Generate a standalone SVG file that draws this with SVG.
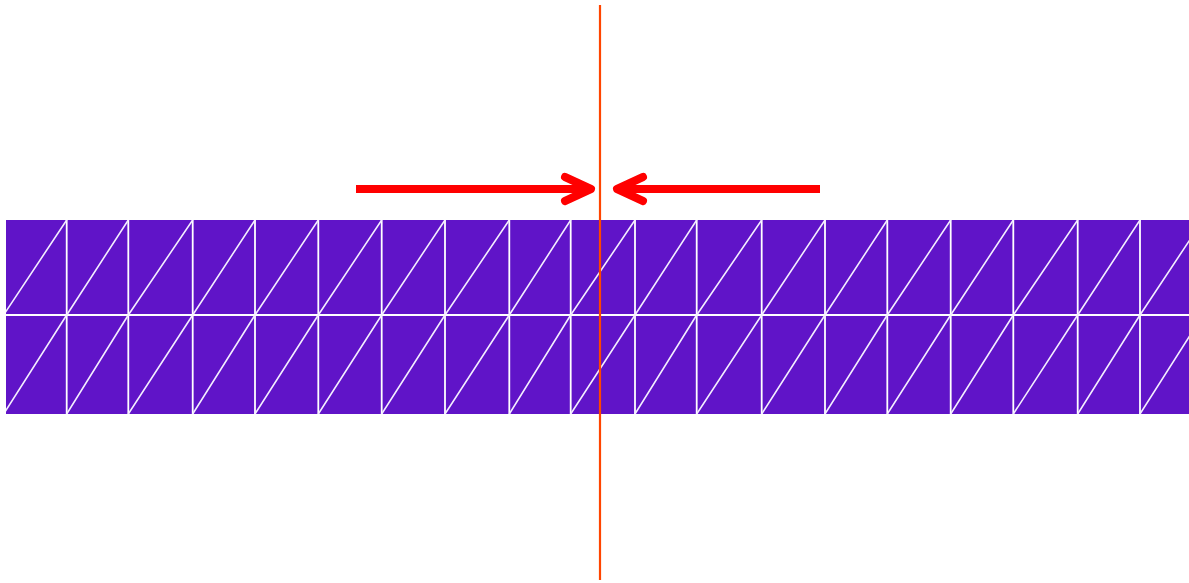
<svg xmlns="http://www.w3.org/2000/svg" width="1189" height="583" viewBox="0 0 1189 583">
<defs>
<style>
.bg{fill:#ffffff}
.band{fill:#6014c8}
.mesh{stroke:#ffffff;stroke-width:1.8;fill:none}
.diag{stroke:#f4eeff;stroke-width:1.6;fill:none}
.axis{stroke:#ff4500;stroke-width:2.2;fill:none}
.arrow{stroke:#ff0000;stroke-width:8;fill:none;stroke-linecap:round;stroke-linejoin:round}
.shaft{stroke:#ff0000;stroke-width:8;fill:none;stroke-linecap:butt}
</style>
<clipPath id="bandClip"><rect x="6" y="220" width="1183" height="194"/></clipPath>
</defs>
<rect class="bg" x="0" y="0" width="1189" height="583"/>
<g id="mesh">
<rect class="band" x="6" y="220" width="1183" height="194"/>
<g clip-path="url(#bandClip)">
<line class="mesh" x1="0" y1="315" x2="1189" y2="315"/>
<g id="verticals">
<line class="mesh" x1="66.7" y1="220" x2="66.7" y2="414"/>
<line class="mesh" x1="128.3" y1="220" x2="128.3" y2="414"/>
<line class="mesh" x1="192.7" y1="220" x2="192.7" y2="414"/>
<line class="mesh" x1="255" y1="220" x2="255" y2="414"/>
<line class="mesh" x1="318.3" y1="220" x2="318.3" y2="414"/>
<line class="mesh" x1="381.7" y1="220" x2="381.7" y2="414"/>
<line class="mesh" x1="445" y1="220" x2="445" y2="414"/>
<line class="mesh" x1="509.3" y1="220" x2="509.3" y2="414"/>
<line class="mesh" x1="570.7" y1="220" x2="570.7" y2="414"/>
<line class="mesh" x1="635" y1="220" x2="635" y2="414"/>
<line class="mesh" x1="696.7" y1="220" x2="696.7" y2="414"/>
<line class="mesh" x1="761.7" y1="220" x2="761.7" y2="414"/>
<line class="mesh" x1="825" y1="220" x2="825" y2="414"/>
<line class="mesh" x1="887.3" y1="220" x2="887.3" y2="414"/>
<line class="mesh" x1="950.7" y1="220" x2="950.7" y2="414"/>
<line class="mesh" x1="1013.3" y1="220" x2="1013.3" y2="414"/>
<line class="mesh" x1="1077.7" y1="220" x2="1077.7" y2="414"/>
<line class="mesh" x1="1140" y1="220" x2="1140" y2="414"/>
</g>
<g id="diagonals">
<path class="diag" d="M3.6 315L66.7 220M66.7 315L128.3 220M128.3 315L192.7 220M192.7 315L255 220M255 315L318.3 220M318.3 315L381.7 220M381.7 315L445 220M445 315L509.3 220M509.3 315L570.7 220M570.7 315L635 220M635 315L696.7 220M696.7 315L761.7 220M761.7 315L825 220M825 315L887.3 220M887.3 315L950.7 220M950.7 315L1013.3 220M1013.3 315L1077.7 220M1077.7 315L1140 220M1140 315L1203 220"/>
<path class="diag" d="M3.6 414L66.7 315M66.7 414L128.3 315M128.3 414L192.7 315M192.7 414L255 315M255 414L318.3 315M318.3 414L381.7 315M381.7 414L445 315M445 414L509.3 315M509.3 414L570.7 315M570.7 414L635 315M635 414L696.7 315M696.7 414L761.7 315M761.7 414L825 315M825 414L887.3 315M887.3 414L950.7 315M950.7 414L1013.3 315M1013.3 414L1077.7 315M1077.7 414L1140 315M1140 414L1203 315"/>
</g>
</g>
</g>
<g id="axis">
<line class="axis" x1="600" y1="5" x2="600" y2="580"/>
</g>
<g id="connectors">
<g id="arrow-left">
<line class="shaft" x1="356" y1="189" x2="590" y2="189"/>
<polyline class="arrow" points="565,177 591,189 565,201"/>
</g>
<g id="arrow-right">
<line class="shaft" x1="820" y1="189" x2="618" y2="189"/>
<polyline class="arrow" points="643,177 617,189 643,201"/>
</g>
</g>
</svg>
